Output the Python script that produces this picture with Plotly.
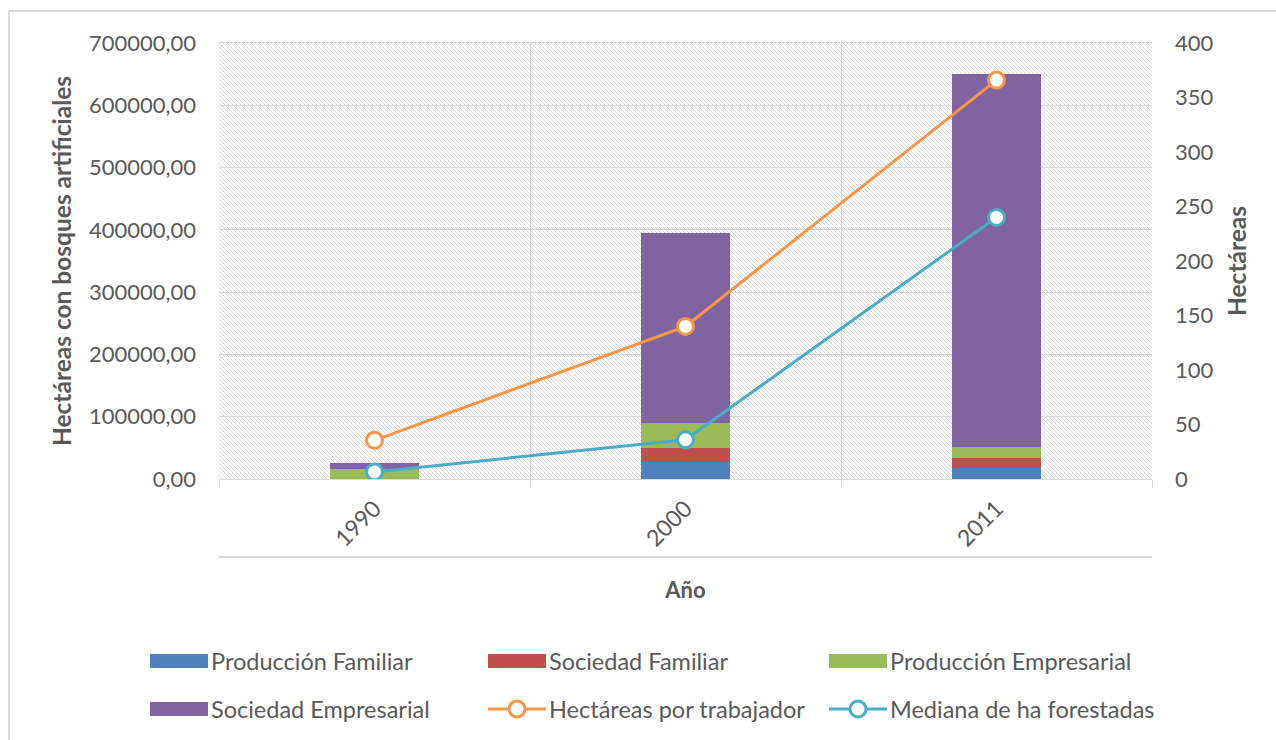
import plotly.graph_objects as go
import urllib.parse

years = ["1990", "2000", "2011"]
produccion_familiar = [0, 26500, 17000]
sociedad_familiar = [0, 24000, 17500]
produccion_empresarial = [16000, 39500, 17000]
sociedad_empresarial = [9500, 305000, 598000]
hectareas_por_trabajador = [35.5, 140, 366]
mediana_ha_forestadas = [6.5, 36, 240]

FONT = "Lato"
GREY = "#595959"
GRID = "#d9d9d9"

bar_series = [
    ("Producción Familiar", produccion_familiar, "#4F81BD"),
    ("Sociedad Familiar", sociedad_familiar, "#C0504D"),
    ("Producción Empresarial", produccion_empresarial, "#9BBB59"),
    ("Sociedad Empresarial", sociedad_empresarial, "#8064A2"),
]
line_series = [
    ("Hectáreas por trabajador", hectareas_por_trabajador, "#F79646"),
    ("Mediana de ha forestadas", mediana_ha_forestadas, "#4BACC6"),
]

fig = go.Figure()
for name, vals, col in bar_series:
    fig.add_trace(go.Bar(x=years, y=vals, name=name, marker_color=col,
                         marker_line_width=0, width=0.286))
for name, vals, col in line_series:
    fig.add_trace(go.Scatter(x=years, y=vals, name=name, yaxis="y2", mode="lines+markers",
                             line=dict(color=col, width=3),
                             marker=dict(symbol="circle", size=16, color="white",
                                         line=dict(color=col, width=3))))

# hatched plot-area background
W, H = 933, 436
svg = (f'<svg xmlns="http://www.w3.org/2000/svg" width="{W}" height="{H}" viewBox="0 0 {W} {H}" '
       'preserveAspectRatio="none"><defs><pattern id="p" patternUnits="userSpaceOnUse" width="4" height="4">'
       '<path d="M-1,-1 L5,5 M3,-1 L5,1 M-1,3 L1,5" stroke="#dadada" stroke-width="1"/></pattern></defs>'
       f'<rect width="{W}" height="{H}" fill="white"/><rect width="{W}" height="{H}" fill="url(#p)"/></svg>')
img = "data:image/svg+xml;charset=utf-8," + urllib.parse.quote(svg)

L, R, T, B = 219, 124, 43, 261
pw, ph = 1276 - L - R, 740 - T - B


def px(x):
    return (x - L) / pw


def py(y):
    return (740 - B - y) / ph


shapes = [
    dict(type="line", xref="paper", yref="paper", x0=0, x1=1, y0=py(557), y1=py(557),
         line=dict(color=GRID, width=2)),
    dict(type="line", xref="paper", yref="paper", x0=px(9), x1=px(1290), y0=py(11), y1=py(11),
         line=dict(color=GRID, width=2)),
    dict(type="line", xref="paper", yref="paper", x0=px(9), x1=px(9), y0=py(11), y1=py(760),
         line=dict(color=GRID, width=2)),
]
annotations = []

# manual legend (positions in pixels)
legend_items = [
    (bar_series[0], "bar", 150, 661),
    (bar_series[1], "bar", 488, 661),
    (bar_series[2], "bar", 829, 661),
    (bar_series[3], "bar", 150, 709),
    (line_series[0], "line", 488, 709),
    (line_series[1], "line", 829, 709),
]
for (name, _, col), kind, x, y in legend_items:
    if kind == "bar":
        shapes.append(dict(type="rect", xref="paper", yref="paper", x0=px(x), x1=px(x + 58),
                           y0=py(y + 7), y1=py(y - 7), fillcolor=col, line=dict(width=0)))
    else:
        shapes.append(dict(type="line", xref="paper", yref="paper", x0=px(x), x1=px(x + 58),
                           y0=py(y), y1=py(y), line=dict(color=col, width=3)))
        shapes.append(dict(type="circle", xref="paper", yref="paper", x0=px(x + 21), x1=px(x + 37),
                           y0=py(y + 8), y1=py(y - 8), fillcolor="white",
                           line=dict(color=col, width=3)))
    annotations.append(dict(text=name, xref="paper", yref="paper", x=px(x + 59), y=py(y),
                            xanchor="left", yanchor="middle", showarrow=False,
                            font=dict(size=23.5, color=GREY, family=FONT)))

fig.update_layout(
    width=1276, height=740,
    margin=dict(l=L, r=R, t=T, b=B, autoexpand=False),
    paper_bgcolor="white", plot_bgcolor="white",
    barmode="stack", separators=",.", showlegend=False,
    font=dict(family=FONT, color=GREY, size=22),
    images=[dict(source=img, xref="paper", yref="paper", x=0, y=1, sizex=1, sizey=1,
                 sizing="stretch", layer="below", xanchor="left", yanchor="top")],
    xaxis=dict(type="category", tickson="boundaries", showgrid=True, gridcolor=GRID, gridwidth=1,
               ticks="outside", ticklen=8, tickcolor=GRID, tickangle=-45,
               tickfont=dict(size=23, color=GREY), ticklabelstandoff=6,
               showline=True, linecolor=GRID, mirror=True,
               title=dict(text="<b>Año</b>", font=dict(size=22, color=GREY), standoff=32)),
    yaxis=dict(range=[0, 700000], dtick=100000, tickformat=".2f", showgrid=True, gridcolor=GRID,
               zeroline=False, showline=False, tickfont=dict(size=22, color=GREY),
               ticklabelstandoff=22,
               title=dict(text="<b>Hectáreas con bosques artificiales</b>",
                          font=dict(size=24.5, color=GREY), standoff=10)),
    yaxis2=dict(range=[0, 400], dtick=50, overlaying="y", side="right", showgrid=False,
                zeroline=False, showline=False, tickfont=dict(size=22, color=GREY),
                ticklabelstandoff=22,
                title=dict(text="<b>Hectáreas</b>", font=dict(size=24.5, color=GREY), standoff=16)),
    shapes=shapes,
    annotations=annotations,
)

fig.write_html("out.html")
